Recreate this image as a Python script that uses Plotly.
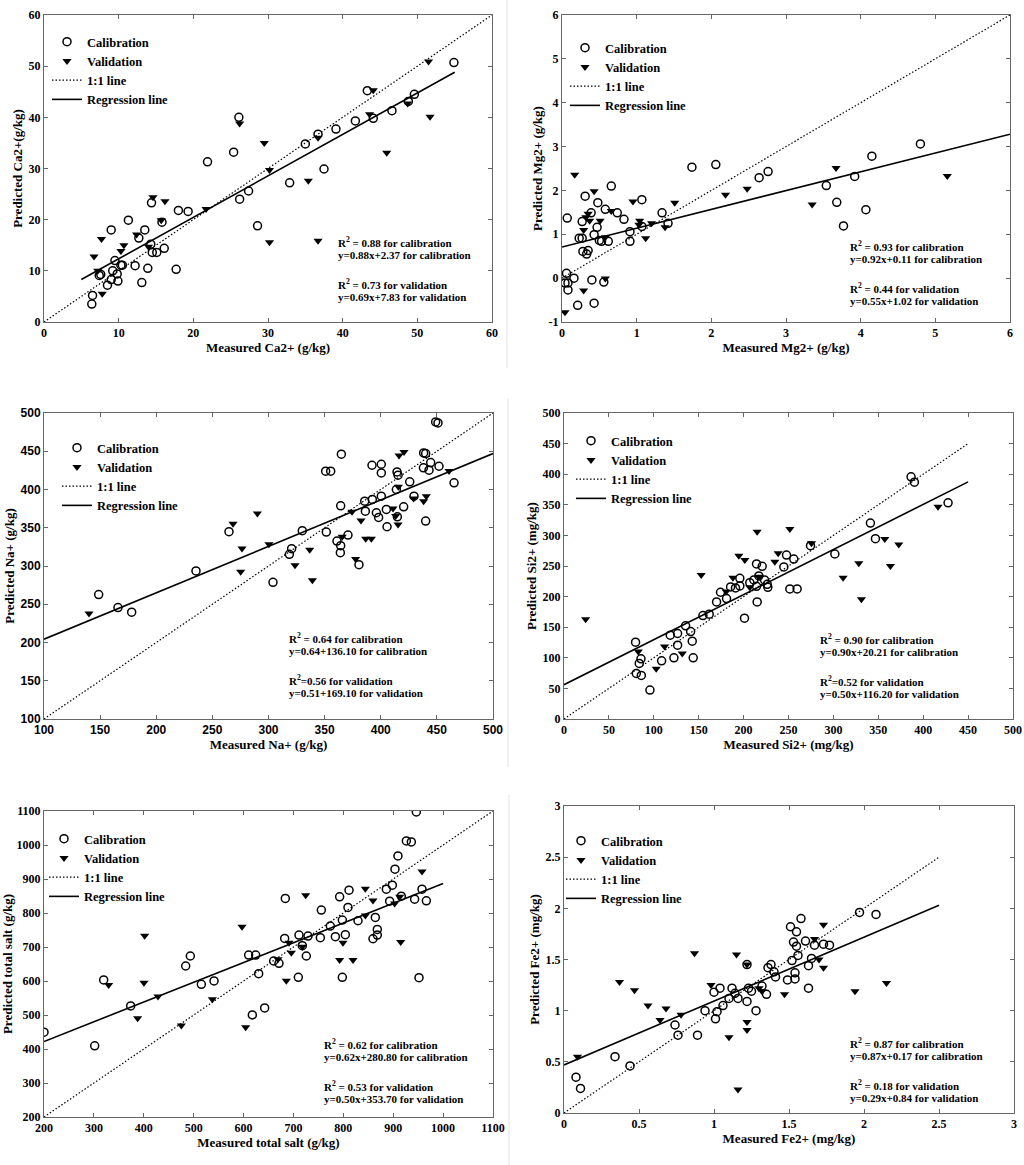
import plotly.graph_objects as go

W, H = 1024, 1165

# ---- Ca2+ ----
ca_cal_x = [6.4, 6.5, 7.4, 7.6, 8.5, 9.0, 9.2, 9.0, 9.5, 9.8, 9.9, 10.3, 10.5, 11.3, 12.2, 12.7, 13.1, 13.5, 13.9, 14.4,
            14.3, 14.5, 15.1, 15.8, 16.1, 17.7, 18.0, 19.3, 21.9, 25.4, 26.1, 26.2, 27.4, 28.6, 32.9, 35.0, 36.7, 37.5,
            39.1, 41.7, 43.3, 44.1, 46.6, 48.8, 49.6, 54.9]
ca_cal_y = [3.5, 5.2, 9.1, 9.3, 7.2, 8.3, 10.0, 18.0, 12.0, 9.4, 8.0, 11.1, 11.1, 19.9, 11.0, 16.4, 7.7, 18.0, 10.5, 23.3,
            15.2, 13.6, 13.6, 19.5, 14.4, 10.3, 21.8, 21.6, 31.3, 33.2, 40.0, 24.0, 25.6, 18.8, 27.2, 34.8, 36.7, 29.9,
            37.7, 39.3, 45.2, 39.8, 41.3, 43.1, 44.5, 50.7]
ca_val_x = [6.7, 7.2, 7.7, 7.8, 10.7, 10.3, 12.4, 14.0, 14.6, 15.7, 16.2, 21.7, 26.2, 29.5, 30.2, 30.2, 35.4, 36.7, 36.7,
            43.6, 44.1, 45.9, 48.7, 51.5, 51.7]
ca_val_y = [12.8, 10.0, 16.2, 5.5, 15.0, 13.9, 17.1, 14.7, 24.4, 19.9, 23.6, 22.1, 38.8, 35.0, 15.6, 29.7, 27.6, 15.9, 36.0,
            40.6, 45.3, 33.1, 42.7, 50.9, 40.1]
ca_reg_x = [5, 55]
ca_reg_y = [8.3, 48.8]
ca_one = [0, 60]

# ---- Mg2+ ----
mg_cal_x = [0.06, 0.04, 0.08, 0.08, 0.07, 0.16, 0.21, 0.23, 0.27, 0.27, 0.28, 0.31, 0.33, 0.35, 0.39, 0.40, 0.43, 0.43,
            0.47, 0.48, 0.50, 0.56, 0.53, 0.58, 0.62, 0.66, 0.74, 0.83, 0.91, 0.91, 1.07, 1.07, 1.34, 1.42, 1.74, 2.06,
            2.64, 2.76, 3.54, 3.68, 3.77, 3.92, 4.07, 4.15, 4.80]
mg_cal_y = [0.11, -0.11, -0.11, -0.27, 1.37, 0.00, -0.62, 0.91, 0.91, 1.29, 0.61, 1.87, 0.55, 0.63, 1.49, -0.04, 0.99,
            -0.57, 1.16, 1.72, 0.86, -0.09, 0.84, 1.57, 0.84, 2.10, 1.49, 1.34, 1.06, 0.84, 1.79, 1.18, 1.49, 1.25,
            2.53, 2.59, 2.29, 2.43, 2.11, 1.73, 1.19, 2.32, 1.56, 2.78, 3.06]
mg_val_x = [0.04, 0.17, 0.29, 0.29, 0.32, 0.35, 0.37, 0.43, 0.51, 0.58, 0.58, 0.66, 0.95, 1.04, 1.03, 1.12, 1.20, 1.38,
            1.51, 2.19, 2.48, 3.35, 3.67, 5.16]
mg_val_y = [-0.78, 2.36, -0.28, 1.10, 1.39, 1.47, 1.31, 1.98, 1.31, 0.93, -0.01, 1.53, 1.75, 1.31, 1.22, 0.91, 1.25,
            1.16, 1.72, 1.90, 2.04, 1.68, 2.51, 2.33]
mg_reg_x = [0, 6]
mg_reg_y = [0.71, 3.28]
mg_one = [0, 6]
mg_yticks = [-1, 0, 1, 2, 3, 4, 5, 6]
mg_ytext = ["-1", "0", "1", "2", "3", "4", "5", "6"]

# ---- Na+ ----
na_cal_x = [148.7, 165.9, 178.1, 235.4, 264.8, 304.0, 318.6, 320.6, 330.1, 350.9, 355.4, 351.5, 361.0, 364.3, 364.0,
            364.3, 364.9, 370.8, 380.6, 385.7, 386.3, 392.5, 392.2, 396.1, 398.1, 400.5, 400.5, 400.5, 405.6, 405.0,
            414.5, 415.4, 413.9, 414.8, 420.4, 425.8, 429.6, 438.2, 440.0, 438.0, 440.0, 443.0, 444.5, 448.9, 451.0,
            451.9, 465.3]
na_cal_y = [262.6, 245.7, 239.6, 293.5, 344.8, 278.7, 315.2, 322.6, 346.1, 423.9, 423.9, 344.3, 332.6, 326.5, 317.4,
            378.7, 446.1, 340.4, 301.7, 384.8, 371.7, 387.0, 431.7, 369.6, 363.5, 433.0, 421.7, 391.3, 351.3, 373.9,
            423.0, 418.7, 400.0, 364.3, 377.4, 410.0, 391.3, 447.8, 447.0, 428.3, 358.7, 425.2, 435.2, 488.3, 487.0,
            430.4, 408.7]
na_val_x = [140.1, 268.4, 276.4, 275.2, 290.1, 300.4, 323.6, 336.7, 339.1, 365.7, 374.4, 377.6, 382.4, 386.6, 391.6,
            410.9, 413.3, 415.4, 415.7, 416.3, 420.7, 429.3, 438.2, 440.6, 460.8]
na_val_y = [237.8, 355.2, 323.0, 292.6, 368.7, 328.3, 300.9, 321.3, 281.3, 338.3, 370.9, 309.1, 359.6, 335.7, 335.7,
            375.2, 365.2, 354.3, 403.5, 444.3, 449.1, 388.3, 384.8, 391.3, 424.3]
na_reg_x = [100, 500]
na_reg_y = [204.3, 447.0]
na_one = [100, 500]

# ---- Si2+ ----
si_cal_x = [79.7, 80.5, 83.8, 85.7, 86.1, 95.7, 108.7, 118.3, 122.4, 126.5, 126.5, 135.4, 141.0, 142.8, 143.9, 154.7,
            161.7, 169.9, 174.3, 181.0, 185.5, 191.0, 195.8, 195.8, 201.0, 206.9, 211.4, 214.4, 215.1, 214.4, 217.0,
            220.7, 223.3, 226.3, 227.0, 244.8, 247.8, 251.5, 255.9, 259.6, 274.5, 301.6, 341.2, 346.8, 386.5, 390.2,
            427.7]
si_cal_y = [125.5, 74.5, 90.8, 98.4, 71.2, 47.3, 95.1, 137.0, 100.0, 120.7, 139.7, 152.2, 142.9, 127.2, 100.0, 169.0,
            171.2, 191.3, 207.1, 196.7, 215.8, 214.1, 229.9, 217.4, 164.7, 222.8, 227.2, 253.3, 191.3, 216.8, 233.7,
            249.5, 227.2, 220.1, 215.2, 248.4, 267.9, 212.5, 261.4, 212.5, 283.2, 269.6, 320.1, 294.6, 395.7, 387.0,
            353.3]
si_val_x = [24.1, 82.7, 102.7, 112.0, 131.7, 152.8, 180.6, 188.1, 194.7, 201.4, 206.9, 215.1, 217.0, 234.8, 238.5,
            251.5, 275.6, 310.8, 328.3, 331.2, 357.2, 363.5, 372.8, 416.5]
si_val_y = [163.0, 110.3, 82.1, 118.5, 107.1, 235.3, 208.2, 231.0, 266.8, 259.8, 215.2, 306.0, 232.6, 257.1, 270.7,
            310.3, 287.0, 231.0, 254.3, 195.7, 294.0, 250.0, 285.3, 346.7]
si_reg_x = [0, 450]
si_reg_y = [56.0, 387.5]
si_one = [0, 450]

# ---- total salt ----
ts_cal_x = [200.0, 301.6, 319.6, 373.7, 484.0, 493.3, 515.4, 540.8, 610.2, 624.3, 617.6, 630.3, 642.3, 660.3, 671.0,
            683.7, 682.4, 709.8, 711.1, 717.8, 725.8, 729.2, 753.9, 755.9, 773.9, 784.0, 792.6, 798.0, 798.0, 804.0,
            809.3, 811.4, 829.4, 859.4, 864.1, 868.1, 868.1, 886.2, 892.8, 898.2, 903.5, 909.5, 926.3, 936.3, 916.2,
            942.9, 946.3, 951.7, 957.7, 966.4]
ts_cal_y = [449.4, 409.3, 603.0, 526.7, 644.1, 673.5, 590.3, 600.1, 676.4, 676.4, 500.3, 621.6, 520.9, 658.8, 651.9,
            842.7, 725.3, 610.9, 735.1, 703.8, 673.5, 732.2, 727.3, 808.5, 761.5, 730.2, 847.6, 779.1, 610.9, 736.1,
            816.3, 867.2, 777.2, 724.3, 786.9, 751.7, 735.1, 870.1, 834.9, 881.8, 928.8, 967.9, 1012.0, 1009.0, 849.6,
            840.8, 1097.1, 609.9, 870.1, 835.9]
ts_val_x = [329.6, 387.7, 401.8, 400.4, 428.5, 475.3, 537.4, 596.9, 604.2, 669.0, 691.1, 695.8, 685.7, 717.8, 724.5,
            792.6, 799.3, 819.4, 844.1, 844.1, 859.4, 902.9, 913.0, 915.0, 957.7]
ts_val_y = [588.4, 490.5, 733.1, 595.2, 554.1, 469.0, 546.3, 759.6, 464.1, 663.7, 712.6, 683.3, 601.1, 700.9, 852.5,
            661.7, 712.6, 661.7, 871.1, 792.8, 836.8, 828.0, 847.6, 714.6, 922.0]
ts_reg_x = [200, 1000]
ts_reg_y = [422.1, 886.7]
ts_one = [200, 1100]

# ---- Fe2+ ----
fe_cal_x = [0.08, 0.11, 0.34, 0.44, 0.74, 0.76, 0.89, 0.94, 1.00, 1.01, 1.02, 1.04, 1.06, 1.10, 1.12, 1.14, 1.16, 1.22,
            1.23, 1.22, 1.25, 1.28, 1.32, 1.35, 1.36, 1.38, 1.40, 1.41, 1.49, 1.51, 1.52, 1.53, 1.54, 1.54, 1.55, 1.55,
            1.56, 1.58, 1.61, 1.63, 1.63, 1.65, 1.67, 1.73, 1.77, 1.97, 2.08]
fe_cal_y = [0.35, 0.24, 0.55, 0.46, 0.86, 0.76, 0.76, 1.00, 1.18, 0.92, 0.99, 1.22, 1.05, 1.12, 1.22, 1.17, 1.12, 1.09,
            1.22, 1.45, 1.19, 1.00, 1.24, 1.16, 1.42, 1.45, 1.38, 1.33, 1.30, 1.82, 1.49, 1.67, 1.37, 1.31, 1.77, 1.63,
            1.54, 1.90, 1.68, 1.44, 1.22, 1.51, 1.64, 1.65, 1.64, 1.96, 1.94]
fe_val_x = [0.09, 0.37, 0.47, 0.56, 0.64, 0.68, 0.78, 0.87, 0.98, 1.10, 1.15, 1.16, 1.22, 1.22, 1.22, 1.30, 1.32, 1.47,
            1.70, 1.67, 1.73, 1.73, 1.94, 2.15]
fe_val_y = [0.55, 1.28, 1.20, 1.05, 0.91, 1.02, 0.96, 1.56, 1.25, 0.74, 1.55, 0.23, 1.45, 0.89, 0.81, 1.22, 1.19, 1.16,
            1.50, 1.70, 1.84, 1.42, 1.19, 1.27]
fe_reg_x = [0, 2.5]
fe_reg_y = [0.47, 2.03]
fe_one = [0, 2.5]

SERIF = "Liberation Serif"
SANS = "Liberation Sans"


def px(x, y):
    return x / W, 1 - y / H


panels = [
    dict(cal=(ca_cal_x, ca_cal_y), val=(ca_val_x, ca_val_y), reg=(ca_reg_x, ca_reg_y), one=ca_one,
         xr=[0, 60], yr=[0, 60], dx=10, dy=10, xt="Measured Ca2+ (g/kg)", yt="Predicted Ca2+(g/kg)",
         box=(44, 15, 492, 322), leg=(71, 45), ann=(336, 242),
         txt=["R<sup>2</sup> = 0.88", "y=0.88x+2.37", "R<sup>2</sup> = 0.73", "y=0.69x+7.83"], font=SERIF),
    dict(cal=(mg_cal_x, mg_cal_y), val=(mg_val_x, mg_val_y), reg=(mg_reg_x, mg_reg_y), one=mg_one,
         xr=[0, 6], yr=[-1, 6], dx=1, dy=1, xt="Measured Mg2+ (g/kg)", yt="Predicted Mg2+ (g/kg)",
         box=(562, 15, 1010, 322), leg=(589, 51), ann=(848, 246),
         txt=["R<sup>2</sup> = 0.93", "y=0.92x+0.11", "R<sup>2</sup> = 0.44", "y=0.55x+1.02"], font=SERIF),
    dict(cal=(na_cal_x, na_cal_y), val=(na_val_x, na_val_y), reg=(na_reg_x, na_reg_y), one=na_one,
         xr=[100, 500], yr=[100, 500], dx=50, dy=50, xt="Measured Na+ (g/kg)", yt="Predicted Na+ (g/kg)",
         box=(44, 413, 493, 719), leg=(81, 451), ann=(287, 638),
         txt=["R<sup>2</sup> = 0.64", "y=0.64+136.10", "R<sup>2</sup>=0.56", "y=0.51+169.10"], font=SANS),
    dict(cal=(si_cal_x, si_cal_y), val=(si_val_x, si_val_y), reg=(si_reg_x, si_reg_y), one=si_one,
         xr=[0, 500], yr=[0, 500], dx=50, dy=50, xt="Measured Si2+ (mg/kg)", yt="Predicted Si2+ (mg/kg)",
         box=(564, 413, 1013, 719), leg=(595, 444), ann=(818, 639),
         txt=["R<sup>2</sup> = 0.90", "y=0.90x+20.21", "R<sup>2</sup>=0.52", "y=0.50x+116.20"], font=SERIF),
    dict(cal=(ts_cal_x, ts_cal_y), val=(ts_val_x, ts_val_y), reg=(ts_reg_x, ts_reg_y), one=ts_one,
         xr=[200, 1100], yr=[200, 1100], dx=100, dy=100, xt="Measured total salt (g/kg)",
         yt="Predicted total salt (g/kg)",
         box=(44, 811, 493, 1117), leg=(68, 842), ann=(322, 1044),
         txt=["R<sup>2</sup> = 0.62", "y=0.62x+280.80", "R<sup>2</sup> = 0.53", "y=0.50x+353.70"], font=SERIF),
    dict(cal=(fe_cal_x, fe_cal_y), val=(fe_val_x, fe_val_y), reg=(fe_reg_x, fe_reg_y), one=fe_one,
         xr=[0, 3], yr=[0, 3], dx=0.5, dy=0.5, xt="Measured Fe2+ (mg/kg)", yt="Predicted Fe2+ (mg/kg)",
         box=(564, 806, 1014, 1113), leg=(585, 844), ann=(848, 1043),
         txt=["R<sup>2</sup> = 0.87", "y=0.87x+0.17", "R<sup>2</sup> = 0.18", "y=0.29x+0.84"], font=SERIF),
]

suffixes = [" for calibration", " for calibration", " for validation", " for validation"]
line_offsets = [0, 13.3, 41.7, 54.7]

fig = go.Figure()
layout = {}
annotations = []

for i, p in enumerate(panels):
    n = "" if i == 0 else str(i + 1)
    xa, ya = "x" + n, "y" + n
    lg = "legend" + n
    fig.add_trace(go.Scatter(x=p["cal"][0], y=p["cal"][1], mode="markers", name="Calibration",
                             marker=dict(symbol="circle-open", size=8, color="black", line=dict(width=1.5)),
                             xaxis=xa, yaxis=ya, legend=lg))
    fig.add_trace(go.Scatter(x=p["val"][0], y=p["val"][1], mode="markers", name="Validation",
                             marker=dict(symbol="triangle-down", size=8, color="black"),
                             xaxis=xa, yaxis=ya, legend=lg))
    fig.add_trace(go.Scatter(x=p["one"], y=p["one"], mode="lines", name="1:1 line",
                             line=dict(color="black", width=1.2, dash="1.5px,2px"),
                             xaxis=xa, yaxis=ya, legend=lg))
    fig.add_trace(go.Scatter(x=p["reg"][0], y=p["reg"][1], mode="lines", name="Regression line",
                             line=dict(color="black", width=1.6),
                             xaxis=xa, yaxis=ya, legend=lg))

    x0, y0, x1, y1 = p["box"]
    tickfont = dict(family=p["font"], size=12, color="black", weight="bold")
    common = dict(showgrid=False, zeroline=False, showline=True, linecolor="#666", linewidth=1,
                  mirror="ticks", ticks="inside", ticklen=4, tickcolor="#666", tickfont=tickfont,
                  automargin=False)
    layout["xaxis" + n] = dict(common, domain=[x0 / W, x1 / W], range=p["xr"], dtick=p["dx"], tick0=0,
                               anchor=ya,
                               title=dict(text=p["xt"], standoff=0,
                                          font=dict(family=SERIF, size=13, color="black", weight="bold")))
    yax = dict(common, domain=[1 - y1 / H, 1 - y0 / H], range=p["yr"], dtick=p["dy"], tick0=0, anchor=xa,
               title=dict(text=p["yt"], standoff=3,
                          font=dict(family=SERIF, size=13, color="black", weight="bold")))
    if i == 1:
        yax.update(tickmode="array", tickvals=mg_yticks, ticktext=mg_ytext)
    layout["yaxis" + n] = yax

    lx, ly = px(p["leg"][0] - 24, p["leg"][1] - 18)
    layout[lg] = dict(x=lx, y=ly, xanchor="left", yanchor="top", bgcolor="rgba(0,0,0,0)",
                      font=dict(family=SERIF, size=12.5, color="black", weight="bold"), itemwidth=30)

    for k in range(4):
        ax, ay = px(p["ann"][0], p["ann"][1] + line_offsets[k])
        annotations.append(dict(x=ax, y=ay, xref="paper", yref="paper", xanchor="left", yanchor="middle",
                                align="left", showarrow=False, text=p["txt"][k] + suffixes[k],
                                font=dict(family=SERIF, size=11, color="black", weight="bold")))

# faint separators between columns
shapes = []
for sx, sy0, sy1 in [(507, 0, 368), (508, 398, 767), (509, 795, 1165)]:
    shapes.append(dict(type="line", xref="paper", yref="paper", x0=sx / W, x1=sx / W,
                       y0=1 - sy0 / H, y1=1 - sy1 / H, line=dict(color="#e2e2e2", width=1)))

fig.update_layout(**layout)
fig.update_layout(width=W, height=H, margin=dict(l=0, r=0, t=0, b=0, autoexpand=False),
                  paper_bgcolor="white", plot_bgcolor="white",
                  annotations=annotations, shapes=shapes, showlegend=True)

fig.write_html("out.html", config={"displayModeBar": False},
               post_script="document.body.style.margin='0';")
